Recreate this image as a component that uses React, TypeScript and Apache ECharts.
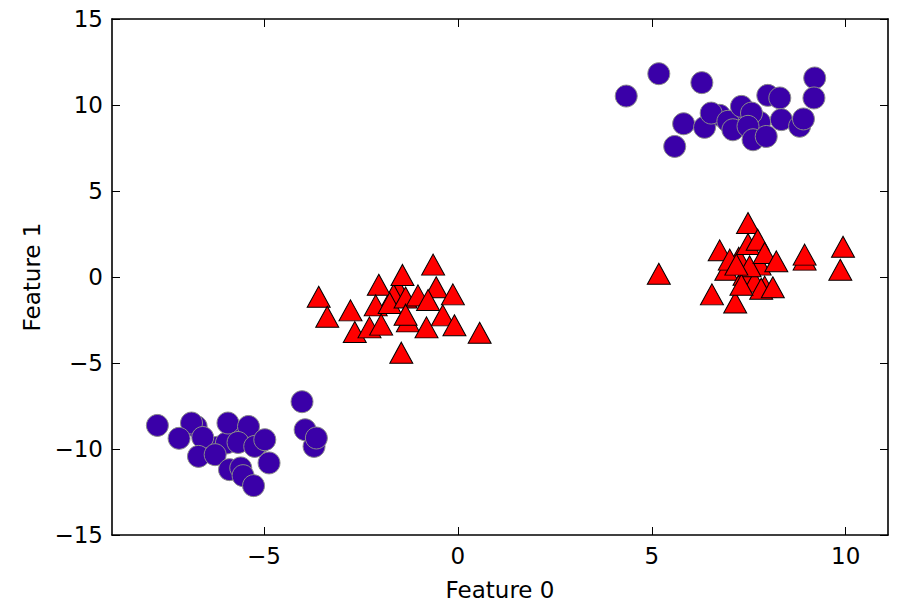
import React, { useEffect, useRef } from "react";
import * as echarts from "echarts";

// Class 0 (circles), lower-left cluster (partly hidden points first, drawn underneath)
const circlesLowerLeft: [number, number][] = [
  [-6.2, -9.9], [-5.1, -9.6], [-5.97, -9.65], [-5.50, -9.17], [-6.75, -8.69],
  [-7.75, -8.63], [-6.87, -8.49], [-7.19, -9.38], [-6.58, -9.33], [-6.69, -10.43],
  [-6.26, -10.33], [-5.93, -8.49], [-5.40, -8.69], [-5.67, -9.62], [-5.24, -9.85],
  [-4.98, -9.46], [-4.87, -10.81], [-5.89, -11.2], [-5.60, -11.1], [-5.54, -11.55],
  [-5.27, -12.13], [-4.02, -7.25], [-3.94, -8.88], [-3.71, -9.85], [-3.65, -9.36],
];
// Class 0 (circles), upper-right cluster
const circlesUpperRight: [number, number][] = [
  [7.39, 9.55], [7.2, 8.85], [7.78, 9.0], [6.75, 9.4],
  [4.34, 10.52], [5.18, 11.82], [6.29, 11.30], [5.82, 8.91], [5.59, 7.59],
  [6.36, 8.70], [6.53, 9.53], [6.96, 9.05], [7.09, 8.56], [7.31, 9.92],
  [7.57, 9.53], [7.48, 8.76], [7.61, 7.98], [7.95, 8.17], [7.99, 10.56],
  [8.30, 10.41], [8.34, 9.15], [8.81, 8.76], [8.91, 9.19], [9.20, 11.57],
  [9.18, 10.41],
];
// Class 1 (triangles), middle cluster
const trianglesMiddle: [number, number][] = [
  [-1.53, -0.74], [-1.29, -2.58], [-1.66, -1.03],
  [-3.59, -1.15], [-3.37, -2.31], [-2.77, -1.94], [-2.66, -3.20], [-2.04, -0.45],
  [-2.12, -1.65], [-2.28, -2.93], [-1.98, -2.77], [-1.76, -1.51], [-1.43, 0.12],
  [-1.35, -1.19], [-1.35, -2.19], [-1.03, -1.07], [-0.64, 0.72],
  [-0.56, -0.60], [-0.77, -1.34], [-0.13, -1.01], [-0.39, -2.23], [-0.09, -2.81],
  [-0.81, -2.93], [0.56, -3.24], [-1.46, -4.40],
];
// Class 1 (triangles), right cluster
const trianglesRight: [number, number][] = [
  [6.92, 0.42], [7.39, 0.13], [7.65, -0.27], [7.24, 1.12], [7.78, 0.72], [7.91, -0.56],
  [5.18, 0.19], [6.75, 1.55], [7.01, 1.01], [6.55, -1.01], [7.15, -1.48],
  [7.48, 3.14], [7.48, 1.92], [7.52, 0.62], [7.73, 2.17], [7.91, 1.40],
  [8.21, 0.91], [7.82, -0.68], [8.12, -0.60], [7.31, -0.45], [7.18, 0.72],
  [8.94, 1.01], [8.94, 1.30], [9.93, 1.76], [9.86, 0.42],
];

const xTicks = [-5, 0, 5, 10];
const yTicks = [-15, -10, -5, 0, 5, 10, 15];
const xRange = [-8.92, 11.09];
const yRange = [-15, 15];
const xName = "Feature 0";
const yName = "Feature 1";

const FONT = "DejaVu Sans";
const fmt = (v: number) => (v < 0 ? "\u2212" + Math.abs(v) : String(v));

export default function App() {
  const ref = useRef<HTMLDivElement>(null);
  useEffect(() => {
    if (!ref.current) return;
    const chart = echarts.init(ref.current, undefined, { renderer: "svg" });
    const axisLine = { show: true, onZero: false, lineStyle: { color: "#000", width: 1.6 } };
    const tick = (vals: number[]) => ({
      show: true,
      inside: true,
      length: 8,
      customValues: vals,
      lineStyle: { color: "#000", width: 1 },
    });
    const label = (vals: number[], show: boolean) => ({
      show,
      customValues: vals,
      formatter: fmt,
      color: "#000",
      fontFamily: FONT,
      fontSize: 23,
      margin: 9,
    });
    chart.setOption({
      animation: false,
      backgroundColor: "#fff",
      grid: { left: 112, right: 33, top: 19, bottom: 79, containLabel: false },
      xAxis: [
        {
          type: "value",
          min: xRange[0],
          max: xRange[1],
          position: "bottom",
          axisLine,
          axisTick: tick(xTicks),
          axisLabel: label(xTicks, true),
          splitLine: { show: false },
          name: xName,
          nameLocation: "middle",
          nameGap: 43,
          nameTextStyle: { color: "#000", fontFamily: FONT, fontSize: 23 },
        },
        {
          type: "value",
          min: xRange[0],
          max: xRange[1],
          position: "top",
          axisLine,
          axisTick: tick(xTicks),
          axisLabel: { show: false, customValues: xTicks },
          splitLine: { show: false },
        },
      ],
      yAxis: [
        {
          type: "value",
          min: yRange[0],
          max: yRange[1],
          position: "left",
          axisLine,
          axisTick: tick(yTicks),
          axisLabel: label(yTicks, true),
          splitLine: { show: false },
          name: yName,
          nameLocation: "middle",
          nameGap: 68,
          nameTextStyle: { color: "#000", fontFamily: FONT, fontSize: 23 },
        },
        {
          type: "value",
          min: yRange[0],
          max: yRange[1],
          position: "right",
          axisLine,
          axisTick: tick(yTicks),
          axisLabel: { show: false, customValues: yTicks },
          splitLine: { show: false },
        },
      ],
      series: [
        {
          type: "scatter",
          symbol: "circle",
          symbolSize: 22,
          data: [...circlesLowerLeft, ...circlesUpperRight],
          itemStyle: { color: "#3a00a8", borderColor: "#8a8a8a", borderWidth: 1, opacity: 1 },
        },
        {
          type: "scatter",
          symbol: "triangle",
          symbolSize: [23, 21],
          data: [...trianglesMiddle, ...trianglesRight],
          itemStyle: { color: "#ff0000", borderColor: "#000", borderWidth: 1, opacity: 1 },
        },
      ],
    });
    return () => chart.dispose();
  }, []);
  return (
    <div
      ref={ref}
      style={{ position: "fixed", left: 0, top: 0, width: 921, height: 614 }}
    />
  );
}
